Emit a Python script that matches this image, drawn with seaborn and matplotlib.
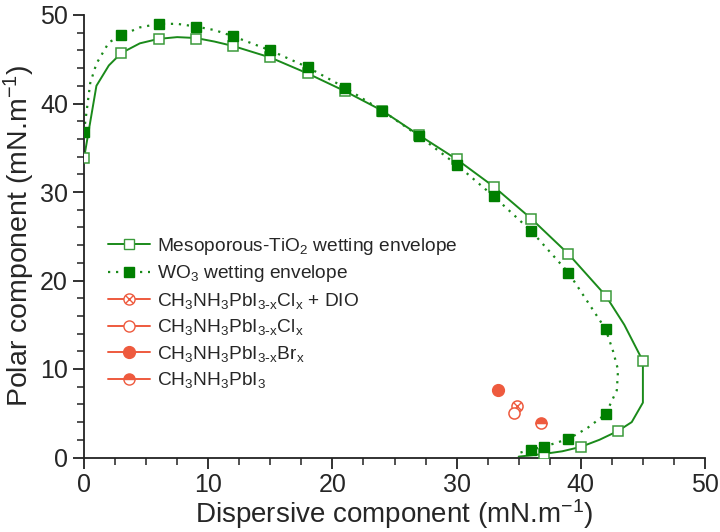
import matplotlib
matplotlib.use("Agg")
import matplotlib.pyplot as plt
import seaborn as sns
import pandas as pd
from matplotlib.lines import Line2D
from matplotlib.ticker import MultipleLocator

sns.set_theme(style="ticks")
plt.rcParams['font.family'] = ['Liberation Sans', 'DejaVu Sans']
plt.rcParams['mathtext.default'] = 'regular'

# ---- data ----
tio2_line_x = [0, 1, 2, 3, 4.5, 6, 7.5, 9, 10.5, 12, 15, 18, 21, 24, 27, 30, 33, 36, 39, 42, 43.5, 45,
               45, 44.1, 43, 41.5, 40, 38.5, 37, 35]
tio2_line_y = [33.8, 42.0, 44.3, 45.7, 46.8, 47.3, 47.5, 47.4, 47.0, 46.5, 45.2, 43.4, 41.4, 39.2, 36.4,
               33.7, 30.6, 27.0, 23.0, 18.3, 15.0, 10.9, 6.2, 4.0, 3.0, 2.0, 1.2, 0.7, 0.4, 0.1]
tio2_mark_x = [0, 3, 6, 9, 12, 15, 18, 21, 24, 27, 30, 33, 36, 39, 42, 45, 43, 40, 37]
tio2_mark_y = [33.8, 45.7, 47.3, 47.3, 46.5, 45.2, 43.4, 41.4, 39.2, 36.4, 33.7, 30.6, 27.0, 23.0,
               18.3, 10.9, 3.0, 1.2, 0.4]

wo3_line_x = [0, 0.5, 1, 2, 3, 4.5, 6, 7.5, 9, 10.5, 12, 15, 18, 21, 24, 27, 30, 33, 36, 39, 42,
              42.6, 43.0, 42.9, 42, 40.5, 39, 37, 36, 35]
wo3_line_y = [36.8, 42.3, 44.5, 46.9, 47.7, 48.6, 49.0, 49.0, 48.7, 48.3, 47.6, 46.0, 44.1, 41.8, 39.2,
              36.3, 33.1, 29.5, 25.6, 20.9, 14.5, 12.0, 9.9, 7.6, 4.9, 3.3, 2.1, 1.2, 0.9, 0.5]
wo3_mark_x = [0, 3, 6, 9, 12, 15, 18, 21, 24, 27, 30, 33, 36, 39, 42, 42, 39, 37, 36]
wo3_mark_y = [36.8, 47.7, 49.0, 48.7, 47.6, 46.0, 44.1, 41.8, 39.2, 36.3, 33.1, 29.5, 25.6, 20.9,
              14.5, 4.9, 2.1, 1.2, 0.9]

pero_labels = [r'CH$_3$NH$_3$PbI$_{3\text{-}x}$Cl$_x$ + DIO',
               r'CH$_3$NH$_3$PbI$_{3\text{-}x}$Cl$_x$',
               r'CH$_3$NH$_3$PbI$_{3\text{-}x}$Br$_x$',
               r'CH$_3$NH$_3$PbI$_3$']
pero_x = [34.9, 34.6, 33.3, 36.8]
pero_y = [5.85, 5.06, 7.6, 3.86]

env_labels = ['Mesoporous-TiO$_2$ wetting envelope', 'WO$_3$ wetting envelope']

GREEN = '#1a8a1a'
DGREEN = '#007f00'
RED = '#ee5a3e'

fig = plt.figure(figsize=(7.2, 5.32), dpi=100)
ax = fig.add_axes([84/720, 1-457.5/532, 621/720, 442.5/532])

df_t = pd.DataFrame({'x': tio2_line_x, 'y': tio2_line_y})
df_w = pd.DataFrame({'x': wo3_line_x, 'y': wo3_line_y})
sns.lineplot(data=df_t, x='x', y='y', sort=False, estimator=None, color=GREEN, lw=1.4, ax=ax, zorder=2)
sns.lineplot(data=df_w, x='x', y='y', sort=False, estimator=None, color=GREEN, lw=1.6,
             linestyle=(0, (1, 2.6)), ax=ax, zorder=2)
ax.plot(tio2_mark_x, tio2_mark_y, ls='none', marker='s', ms=7.5, mfc='white', mec='#3a9a3a', mew=1.1, zorder=3)
ax.plot(wo3_mark_x, wo3_mark_y, ls='none', marker='s', ms=7.5, mfc=DGREEN, mec=DGREEN, mew=1.0, zorder=4)

# perovskite points
ax.plot(pero_x[0], pero_y[0], ls='none', marker='o', ms=8, mfc='none', mec=RED, mew=1.1, zorder=5)
ax.plot(pero_x[0], pero_y[0], ls='none', marker='x', ms=5.5, mec=RED, mew=1.0, zorder=5)
ax.plot(pero_x[1], pero_y[1], ls='none', marker='o', ms=8, mfc='white', mec=RED, mew=1.1, zorder=5)
ax.plot(pero_x[2], pero_y[2], ls='none', marker='o', ms=8.5, mfc=RED, mec=RED, zorder=5)
ax.plot(pero_x[3], pero_y[3], ls='none', marker='o', ms=8, fillstyle='top', mfc=RED,
        mfcalt='white', mec=RED, mew=1.1, zorder=5)

ax.set_xlim(0, 50)
ax.set_ylim(0, 50)
ax.xaxis.set_major_locator(MultipleLocator(10))
ax.xaxis.set_minor_locator(MultipleLocator(2.5))
ax.yaxis.set_major_locator(MultipleLocator(10))
ax.yaxis.set_minor_locator(MultipleLocator(2))
ax.tick_params(which='major', direction='out', length=8, width=1.3, labelsize=18, color='#222222')
ax.tick_params(which='minor', direction='out', length=5, width=1.1, color='#222222')
for s in ['top', 'right']:
    ax.spines[s].set_visible(False)
for s in ['left', 'bottom']:
    ax.spines[s].set_linewidth(1.3)
    ax.spines[s].set_color('#222222')
ax.set_xlabel('Dispersive component (mN.m$^{-1}$)', fontsize=20, labelpad=0)
ax.set_ylabel('Polar component (mN.m$^{-1}$)', fontsize=20.5, labelpad=2)

handles = [
    Line2D([], [], color=GREEN, lw=1.4, marker='s', ms=7, mfc='white', mec='#3a9a3a'),
    Line2D([], [], color=GREEN, lw=1.6, ls=(0, (1, 2.6)), marker='s', ms=7, mfc=DGREEN, mec=DGREEN),
    (Line2D([], [], color=RED, lw=1.4, marker='o', ms=8, mfc='white', mec=RED),
     Line2D([], [], ls='none', marker='x', ms=5.5, mec=RED, mew=1.0)),
    Line2D([], [], color=RED, lw=1.4, marker='o', ms=8, mfc='white', mec=RED),
    Line2D([], [], color=RED, lw=1.4, marker='o', ms=8.5, mfc=RED, mec=RED),
    Line2D([], [], color=RED, lw=1.4, marker='o', ms=8, fillstyle='top', mfc=RED, mfcalt='white', mec=RED),
]
labels = env_labels + pero_labels
ax.legend(handles, labels, loc='upper left', bbox_to_anchor=(0.038, 0.501), frameon=False,
          fontsize=13.8, handlelength=2.2, handletextpad=0.4, labelspacing=0.34,
          borderpad=0, borderaxespad=0)

fig.savefig('out.png', dpi=100)
